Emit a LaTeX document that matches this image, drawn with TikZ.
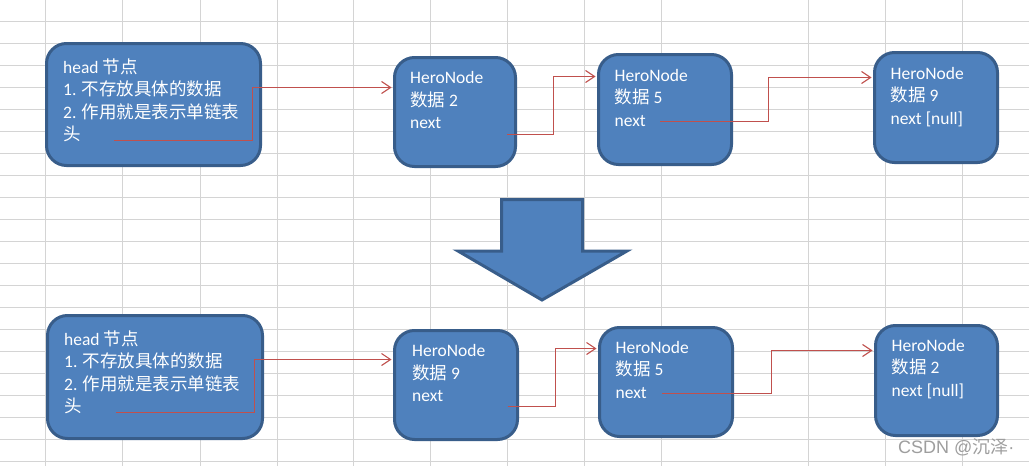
\documentclass[tikz,border=0pt]{standalone}
\usepackage{fontspec}
\setmainfont{Carlito}
\newfontfamily\cjk{Noto Sans CJK SC}
\newfontfamily\wmfont{Liberation Sans}
\usetikzlibrary{arrows.meta}
\definecolor{boxfill}{HTML}{4F81BD}
\definecolor{boxline}{HTML}{385D8A}
\definecolor{linkred}{HTML}{C0504D}
\definecolor{gridgray}{HTML}{D4D4D4}
\begin{document}
\begin{tikzpicture}[x=1pt,y=-1pt,
  nodebox/.style={draw=boxline, fill=boxfill, line width=3pt, rounded corners=20pt, rectangle, inner sep=0pt, outer sep=3pt},
  txt/.style={anchor=base west, text=white, font=\fontsize{17.5}{22.3}\selectfont, inner sep=0pt, align=left},
  link/.style={draw=linkred, line width=1.1pt, -{Straight Barb[length=9pt,width=12pt]}},
  gridline/.style={draw=gridgray, line width=1pt}]
\useasboundingbox (0,0) rectangle (1029,466);
\fill[white] (0,0) rectangle (1029,466);
% spreadsheet grid
\foreach \y in {21.5,43.5,...,461.5} \draw[gridline] (0,\y) -- (1029,\y);
\foreach \x in {45.5,122.5,200.5,277.5,353.5,430.5,507.5,584.5,661.5,808.5,885.5,962.5} \draw[gridline] (\x,0) -- (\x,466);

% ---------- top row ----------
\node[nodebox, minimum width=214pt, minimum height=122pt] (h1) at (153.5,104.5) {};
\node[nodebox, minimum width=121pt, minimum height=109pt] (a1) at (455,112) {};
\node[nodebox, minimum width=133pt, minimum height=110pt] (b1) at (665,109.5) {};
\node[nodebox, minimum width=123pt, minimum height=110pt] (c1) at (936,107.5) {};

% (anchor = baseline of the last line)
\node[txt] (h1t) at (63,140.5) {head {\cjk 节点}\\1. {\cjk 不存放具体的数据}\\2. {\cjk 作用就是表示单链表}\\{\cjk 头}};
\node[txt] (a1t) at (410,128.5) {HeroNode\\{\cjk 数据} 2\\next};
\node[txt] (b1t) at (614.5,126) {HeroNode\\{\cjk 数据} 5\\next};
\node[txt] (c1t) at (890.5,124) {HeroNode\\{\cjk 数据} 9\\next [null]};

\coordinate (hs1) at (114,140.5);
\coordinate (as1) at (507,134.5);
\coordinate (bs1) at (660,121.5);
\draw[link] (hs1) -- (252.5,140.5) -- (252.5,87.5) -- (a1.west |- 0,87.5);
\draw[link] (as1) -- (553.5,134.5) -- (553.5,76.5) -- (b1.west |- 0,76.5);
\draw[link] (bs1) -- (768.5,121.5) -- (768.5,77.5) -- (c1.west |- 0,77.5);

% ---------- big arrow ----------
\draw[draw=boxline, fill=boxfill, line width=3pt, line join=miter]
  (501.5,199.5) -- (582.5,199.5) -- (582.5,251) -- (627,251) -- (542,300) -- (458,251) -- (501.5,251) -- cycle;

% ---------- bottom row ----------
\node[nodebox, minimum width=215pt, minimum height=123pt] (h2) at (155,377) {};
\node[nodebox, minimum width=123pt, minimum height=109pt] (a2) at (456,385) {};
\node[nodebox, minimum width=133pt, minimum height=109pt] (b2) at (666,382) {};
\node[nodebox, minimum width=122pt, minimum height=110pt] (c2) at (936.5,380.5) {};

\node[txt] (h2t) at (64,412.5) {head {\cjk 节点}\\1. {\cjk 不存放具体的数据}\\2. {\cjk 作用就是表示单链表}\\{\cjk 头}};
\node[txt] (a2t) at (412,401.5) {HeroNode\\{\cjk 数据} 9\\next};
\node[txt] (b2t) at (615.5,398) {HeroNode\\{\cjk 数据} 5\\next};
\node[txt] (c2t) at (891.5,396) {HeroNode\\{\cjk 数据} 2\\next [null]};

\coordinate (hs2) at (116,412.5);
\coordinate (as2) at (507.5,406.5);
\coordinate (bs2) at (662,393.5);
\draw[link] (hs2) -- (254.5,412.5) -- (254.5,359.5) -- (a2.west |- 0,359.5);
\draw[link] (as2) -- (555.5,406.5) -- (555.5,348.5) -- (b2.west |- 0,348.5);
\draw[link] (bs2) -- (771.5,393.5) -- (771.5,350.5) -- (c2.west |- 0,350.5);

% watermark
\node[anchor=base west, inner sep=0pt, text=black!38, font=\wmfont\fontsize{18}{18}\selectfont] (wm) at (898,453) {CSDN @{\cjk 沉泽}·};
\end{tikzpicture}
\end{document}
